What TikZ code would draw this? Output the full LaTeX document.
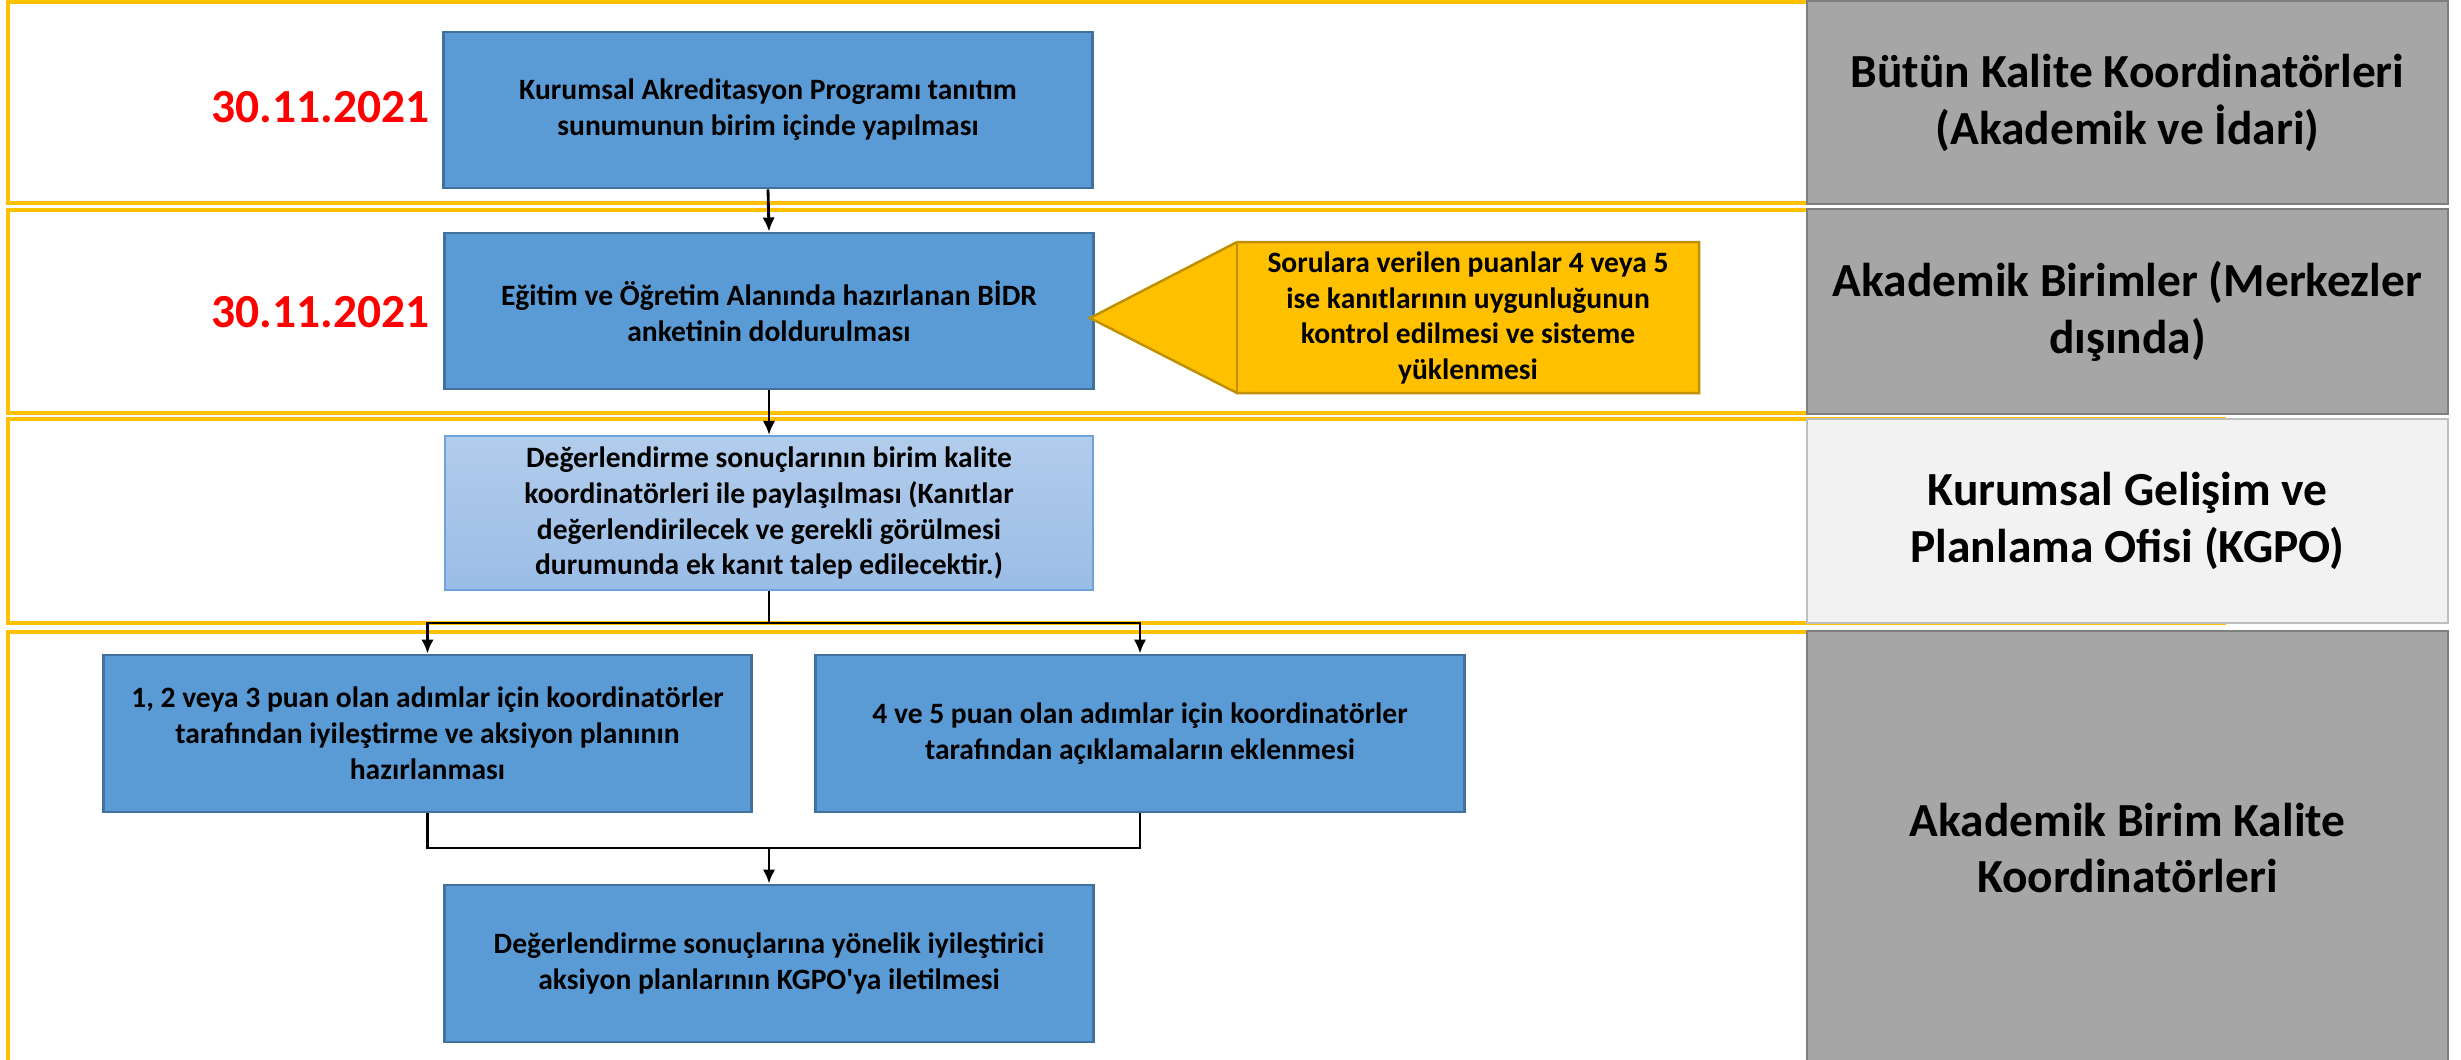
\documentclass[tikz,border=0pt]{standalone}
\usepackage{fontspec}
\setmainfont{Carlito}
\usetikzlibrary{arrows.meta}
\definecolor{laneyellow}{HTML}{FFC000}
\definecolor{boxblue}{HTML}{5B9BD5}
\definecolor{boxblueborder}{HTML}{41719C}
\definecolor{lighttop}{HTML}{B2CCEB}
\definecolor{lightbot}{HTML}{9ABDE6}
\definecolor{lightborder}{HTML}{6FA2DA}
\definecolor{goldfill}{HTML}{FFC000}
\definecolor{goldborder}{HTML}{BF9000}
\definecolor{sidegray}{HTML}{A6A6A6}
\definecolor{sidegrayborder}{HTML}{7F7F7F}
\definecolor{sidelight}{HTML}{F2F2F2}
\definecolor{sidelightborder}{HTML}{BFBFBF}
\definecolor{datered}{HTML}{FF0000}
\tikzset{
  lane/.style={draw=laneyellow, line width=1pt},
  boxtext/.style={font=\fontsize{8.4}{10.2}\selectfont\bfseries, align=center, text=black},
  bluebox/.style={boxtext, draw=boxblueborder, fill=boxblue, line width=0.8pt,
    minimum width=6.48cm, minimum height=1.56cm, inner sep=0pt},
  lightbox/.style={boxtext, draw=lightborder, top color=lighttop, bottom color=lightbot,
    line width=0.6pt, minimum width=6.48cm, minimum height=1.54cm, inner sep=0pt},
  goldshape/.style={draw=goldborder, fill=goldfill, line width=0.7pt},
  sidebox/.style={font=\fontsize{13.5}{16.2}\selectfont\bfseries, align=center, text=black,
    draw=sidegrayborder, fill=sidegray, line width=0.6pt, minimum width=6.41cm, inner sep=0pt},
  sidelightbox/.style={sidebox, draw=sidelightborder, fill=sidelight},
  datelabel/.style={font=\fontsize{13.5}{16.2}\selectfont\bfseries, text=datered, inner sep=0pt},
  conn/.style={line width=0.8pt, draw=black},
  arr/.style={conn, -{Latex[length=4pt,width=3.6pt]}}
}
\begin{document}
\begin{tikzpicture}[x=0.01cm, y=-0.01cm]
\useasboundingbox (0,0) rectangle (2461,1059);
\clip (0,0) rectangle (2461,1059);
\fill[white] (0,0) rectangle (2461,1059);
% lanes
\draw[lane] (8,2) rectangle (2224,203);
\draw[lane] (8,210) rectangle (2224,413);
\draw[lane] (8,419) rectangle (2224,623);
\draw[lane] (8,632) rectangle (2224,1080);
% side boxes
\node[sidebox, minimum height=2.03cm] (g1) at (2127.5,102.5) {Bütün Kalite Koordinatörleri\\(Akademik ve İdari)};
\node[sidebox, minimum height=2.05cm] (g2) at (2127.5,311.5) {Akademik Birimler (Merkezler\\dışında)};
\node[sidelightbox, minimum height=2.04cm] (g3) at (2127.5,521) {Kurumsal Gelişim ve\\Planlama Ofisi (KGPO)};
\node[sidebox, minimum height=4.34cm] (g4) at (2127.5,848) {Akademik Birim Kalite\\Koordinatörleri};
% dates
\node[datelabel, anchor=east] (d1) at (430,107) {30.11.2021};
\node[datelabel, anchor=east] (d2) at (430,312) {30.11.2021};
% flow boxes
\node[bluebox] (b1) at (768,110) {Kurumsal Akreditasyon Programı tanıtım\\sunumunun birim içinde yapılması};
\node[bluebox] (b2) at (769,311) {Eğitim ve Öğretim Alanında hazırlanan BİDR\\anketinin doldurulması};
\node[lightbox] (b3) at (769,513) {Değerlendirme sonuçlarının birim kalite\\koordinatörleri ile paylaşılması (Kanıtlar\\değerlendirilecek ve gerekli görülmesi\\durumunda ek kanıt talep edilecektir.)};
\node[bluebox, minimum width=6.47cm, minimum height=1.57cm] (b4l) at (427.5,733.5) {1, 2 veya 3 puan olan adımlar için koordinatörler\\tarafından iyileştirme ve aksiyon planının\\hazırlanması};
\node[bluebox, minimum height=1.57cm] (b4r) at (1140,733.5) {4 ve 5 puan olan adımlar için koordinatörler\\tarafından açıklamaların eklenmesi};
\node[bluebox, minimum height=1.57cm] (b5) at (769,963.5) {Değerlendirme sonuçlarına yönelik iyileştirici\\aksiyon planlarının KGPO\textquotesingle ya iletilmesi};
% callout pentagon
\coordinate (tip) at (1090,318);
\draw[goldshape] (tip) -- (1237,242) -- (1699,242) -- (1699,393) -- (1237,393) -- cycle;
\draw[goldborder, line width=0.7pt] (1237,242) -- (1237,393);
\node[boxtext, inner sep=0pt] (yt) at (1468,318) {Sorulara verilen puanlar 4 veya 5\\ise kanıtlarının uygunluğunun\\kontrol edilmesi ve sisteme\\yüklenmesi};
% connectors
\coordinate (j1) at (769,623);
\coordinate (j2) at (769,848);
\draw[arr] (b1.south) -- (b2.north);
\draw[arr] (b2.south) -- (b3.north);
\draw[conn] (b3.south) -- (j1);
\draw[arr] (j1) -| (b4l.north);
\draw[arr] (j1) -| (b4r.north);
\draw[conn] (b4l.south) |- (j2);
\draw[conn] (b4r.south) |- (j2);
\draw[arr] (j2) -- (b5.north);
\end{tikzpicture}
\end{document}
